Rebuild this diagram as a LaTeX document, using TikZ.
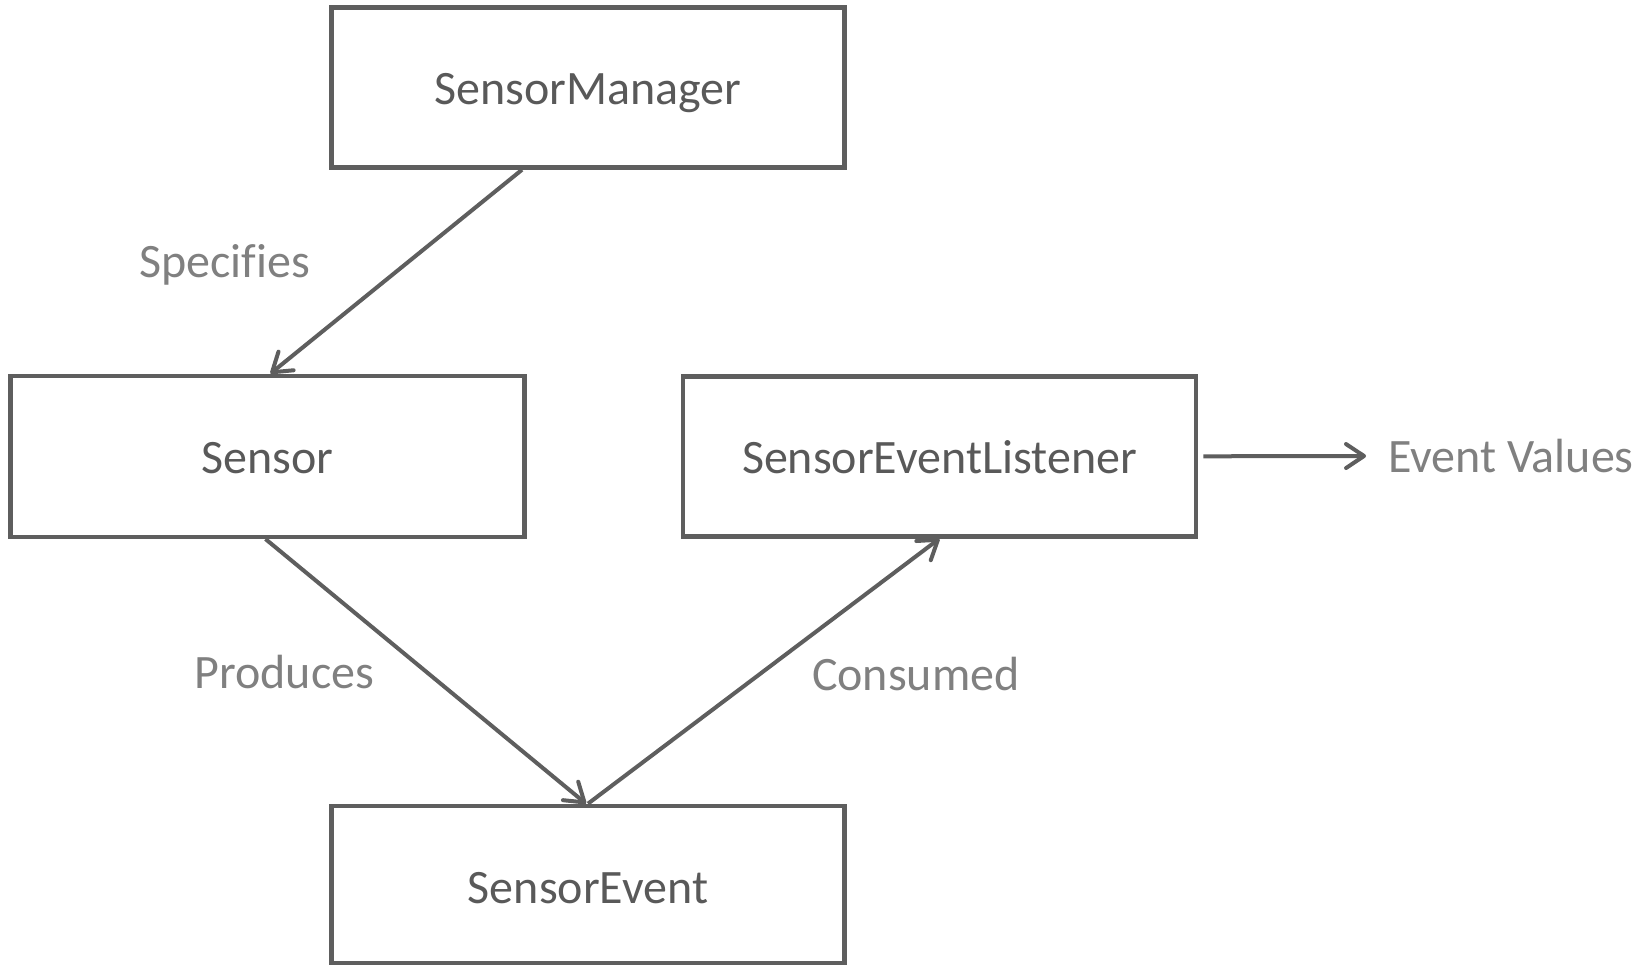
\documentclass[tikz,border=0pt]{standalone}
\usepackage{fontspec}
\setmainfont[Ligatures=NoCommon]{Carlito}
\usetikzlibrary{arrows.meta}
\definecolor{boxline}{HTML}{5E5E5E}
\definecolor{boxtext}{HTML}{595959}
\definecolor{labtext}{HTML}{808080}
\tikzset{
  cbox/.style={draw=boxline, line width=4.5pt, rectangle, inner sep=0pt,
    minimum width=513pt, minimum height=160pt, text=boxtext,
    text height=45pt, text depth=10pt,
    font=\fontsize{48}{57}\selectfont},
  lab/.style={text=labtext, inner sep=0pt, font=\fontsize{48}{57}\selectfont},
  conn/.style={draw=boxline, line width=4pt,
    -{Straight Barb[length=18pt,width=24pt,line cap=round,line join=round]}}
}
\begin{document}
\begin{tikzpicture}[x=1pt,y=-1pt]
\useasboundingbox (0,0) rectangle (1645,965);
\node[cbox] (sm) at (588,87.5) {SensorManager};
\node[cbox, minimum width=514pt, minimum height=161pt] (sensor) at (267.5,456.3) {Sensor};
\node[cbox] (sel) at (939.5,456.3) {SensorEventListener};
\node[cbox, minimum height=157pt, text height=48pt] (se) at (588,884.4) {SensorEvent};
\node[lab] (ev) at (1511,456) {Event Values};
\node[lab] (spec) at (224.5,264.4) {Specifies};
\node[lab] (prod) at (284.3,672.4) {Produces};
\node[lab] (cons) at (915.8,674.5) {Consumed};
\draw[conn] ([xshift=-66pt]sm.south) -- ([xshift=3pt]sensor.north);
\draw[conn] ([xshift=-2pt]sensor.south) -- ([xshift=-2pt]se.north);
\draw[conn] (se.north) -- (sel.south);
\draw[conn] ([xshift=5pt]sel.east) -- ([xshift=-22pt]ev.west);
\end{tikzpicture}
\end{document}
